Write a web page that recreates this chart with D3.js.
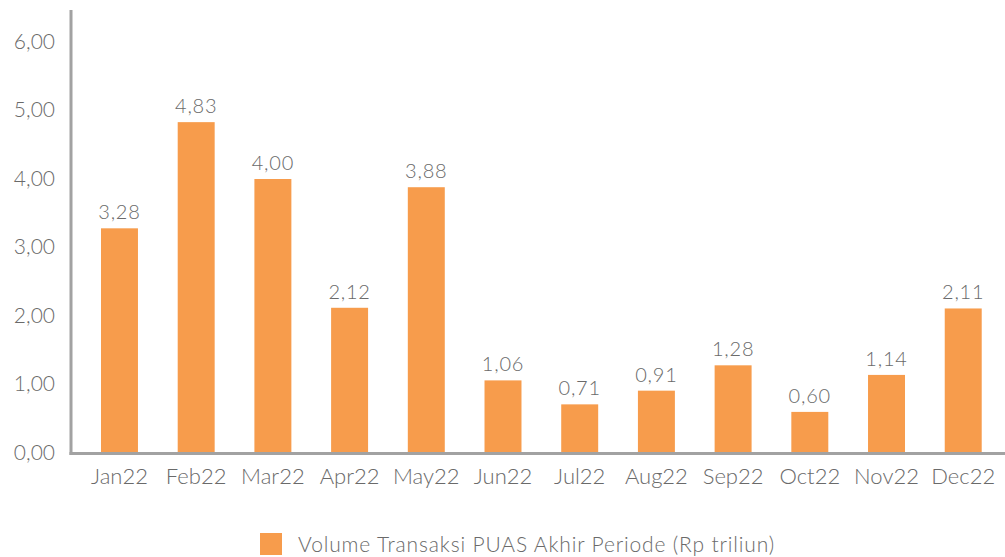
<!DOCTYPE html>
<html>
<head>
<meta charset="utf-8">
<script src="https://cdn.jsdelivr.net/npm/d3@7/dist/d3.min.js"></script>
<style>
  html, body { margin: 0; padding: 0; background: #ffffff; }
  svg { display: block; }
  text { font-family: Lato, "Open Sans", sans-serif; font-weight: 300; fill: #6a6a6a; }
</style>
</head>
<body>
<svg id="chart" width="1005" height="557"></svg>
<script>
const months = ["Jan22", "Feb22", "Mar22", "Apr22", "May22", "Jun22",
                "Jul22", "Aug22", "Sep22", "Oct22", "Nov22", "Dec22"];
const volumes = [3.28, 4.83, 4.00, 2.12, 3.88, 1.06, 0.71, 0.91, 1.28, 0.60, 1.14, 2.11];
const yTicks = [0, 1, 2, 3, 4, 5, 6];
const seriesName = "Volume Transaksi PUAS Akhir Periode (Rp triliun)";

const svg = d3.select("#chart");
const barColor = "#f79c4c";
const axisColor = "#a2a2a2";
const textColor = "#6a6a6a";
const fontStack = "Lato, 'Open Sans', sans-serif";
const fmt = v => d3.format(".2f")(v).replace(".", ",");

const x = d3.scaleBand()
  .domain(months)
  .range([72, 1010.7])
  .paddingInner(0.518)
  .paddingOuter(0.378);

const y = d3.scaleLinear()
  .domain([0, 6])
  .range([453, 42]);

// Bars
svg.append("g").selectAll("rect")
  .data(months)
  .join("rect")
  .attr("x", d => x(d))
  .attr("y", (d, i) => y(volumes[i]))
  .attr("width", x.bandwidth())
  .attr("height", (d, i) => y(0) - y(volumes[i]))
  .attr("fill", barColor);

// Value labels above each bar
svg.append("g").selectAll("text")
  .data(months)
  .join("text")
  .attr("x", d => x(d) + x.bandwidth() / 2)
  .attr("y", (d, i) => y(volumes[i]) - 9)
  .attr("text-anchor", "middle")
  .style("font-size", "20px")
  .style("letter-spacing", "0.8px")
  .text((d, i) => fmt(volumes[i]));

// Y axis
const yAxis = svg.append("g")
  .attr("transform", "translate(71,0)")
  .call(d3.axisLeft(y).tickValues(yTicks).tickFormat(fmt).tickSize(0).tickPadding(16));
yAxis.select(".domain").remove();
yAxis.selectAll("text")
  .attr("dy", "0.3em")
  .style("font-size", "21px")
  .style("font-family", fontStack)
  .style("font-weight", 300)
  .attr("fill", textColor);
svg.append("line")
  .attr("x1", 71).attr("x2", 71)
  .attr("y1", 10).attr("y2", 455)
  .attr("stroke", axisColor).attr("stroke-width", 3);

// X axis
const xAxis = svg.append("g")
  .attr("transform", "translate(0,453)")
  .call(d3.axisBottom(x).tickSize(0).tickPadding(15));
xAxis.select(".domain").remove();
xAxis.selectAll("text")
  .style("font-size", "22px")
  .style("font-family", fontStack)
  .style("font-weight", 300)
  .attr("fill", textColor);
svg.append("line")
  .attr("x1", 69.5).attr("x2", 1005)
  .attr("y1", 453.5).attr("y2", 453.5)
  .attr("stroke", axisColor).attr("stroke-width", 3);

// Legend
const legend = svg.append("g").attr("transform", "translate(260,533)");
legend.append("rect")
  .attr("width", 22).attr("height", 22)
  .attr("fill", barColor);
legend.append("text")
  .attr("x", 38).attr("y", 12)
  .attr("dy", "0.35em")
  .style("font-size", "21px")
  .style("letter-spacing", "0.85px")
  .text(seriesName);
</script>
</body>
</html>
